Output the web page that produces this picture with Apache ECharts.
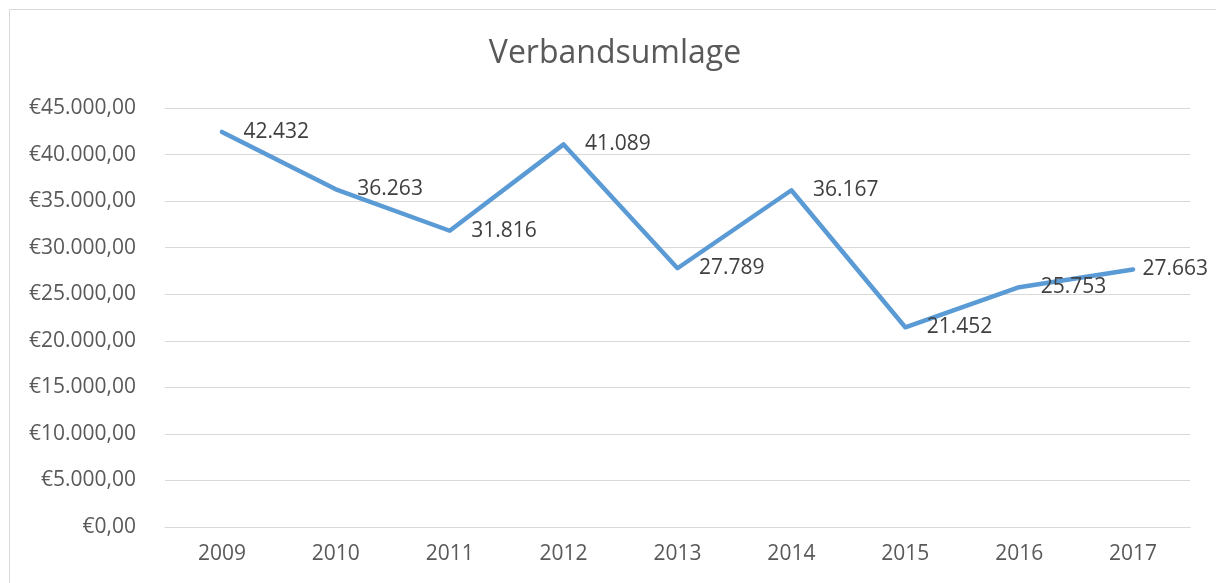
<!DOCTYPE html>
<html>
<head>
<meta charset="utf-8">
<script src="https://cdn.jsdelivr.net/npm/echarts@6/dist/echarts.min.js"></script>
<style>
html,body{margin:0;padding:0;background:#fff;}
#chart{width:1216px;height:583px;}
</style>
</head>
<body>
<div id="chart"></div>
<script>
var chartTitle = 'Verbandsumlage';
var years = ['2009','2010','2011','2012','2013','2014','2015','2016','2017'];
var values = [42432, 36263, 31816, 41089, 27789, 36167, 21452, 25753, 27663];
var yMin = 0, yMax = 45000, yStep = 5000;

function groupThousands(n) {
  return String(n).replace(/\B(?=(\d{3})+(?!\d))/g, '.');
}
function euroFmt(v) {
  return '\u20AC' + groupThousands(Math.round(v)) + ',00';
}

var FONT = '"Open Sans", sans-serif';
var chart = echarts.init(document.getElementById('chart'), null, {renderer: 'canvas'});

var seriesData = values.map(function (v, i) {
  var item = {value: v};
  if (i === values.length - 1) {
    item.label = {distance: 9};
  }
  return item;
});

chart.setOption({
  animation: false,
  backgroundColor: '#ffffff',
  title: {
    text: chartTitle,
    left: 610,
    top: 33,
    textAlign: 'center',
    textStyle: {fontFamily: FONT, fontSize: 32, fontWeight: 'normal', color: '#595959'}
  },
  graphic: [{
    type: 'rect',
    shape: {x: 9.5, y: 9.5, width: 1400, height: 800},
    style: {fill: 'none', stroke: '#d9d9d9', lineWidth: 1},
    silent: true,
    z: -1
  }],
  grid: {left: 165, right: 26, top: 108, bottom: 56, containLabel: false},
  xAxis: {
    type: 'category',
    data: years,
    boundaryGap: true,
    axisLine: {show: true, lineStyle: {color: '#d9d9d9', width: 1}},
    axisTick: {show: false},
    axisLabel: {fontFamily: FONT, fontSize: 21, color: '#595959', margin: 17}
  },
  yAxis: {
    type: 'value',
    min: yMin,
    max: yMax,
    interval: yStep,
    axisLine: {show: false},
    axisTick: {show: false},
    splitLine: {lineStyle: {color: '#d9d9d9', width: 1}},
    axisLabel: {fontFamily: FONT, fontSize: 21, color: '#595959', margin: 29, formatter: euroFmt}
  },
  series: [{
    type: 'line',
    data: seriesData,
    symbol: 'circle',
    symbolSize: 1,
    showSymbol: true,
    itemStyle: {color: '#5b9bd5'},
    lineStyle: {color: '#5b9bd5', width: 4.5, cap: 'round', join: 'round'},
    label: {
      show: true,
      position: 'right',
      distance: 21,
      fontFamily: FONT,
      fontSize: 21,
      color: '#404040',
      formatter: function (p) { return groupThousands(p.value); }
    }
  }]
});
</script>
</body>
</html>
